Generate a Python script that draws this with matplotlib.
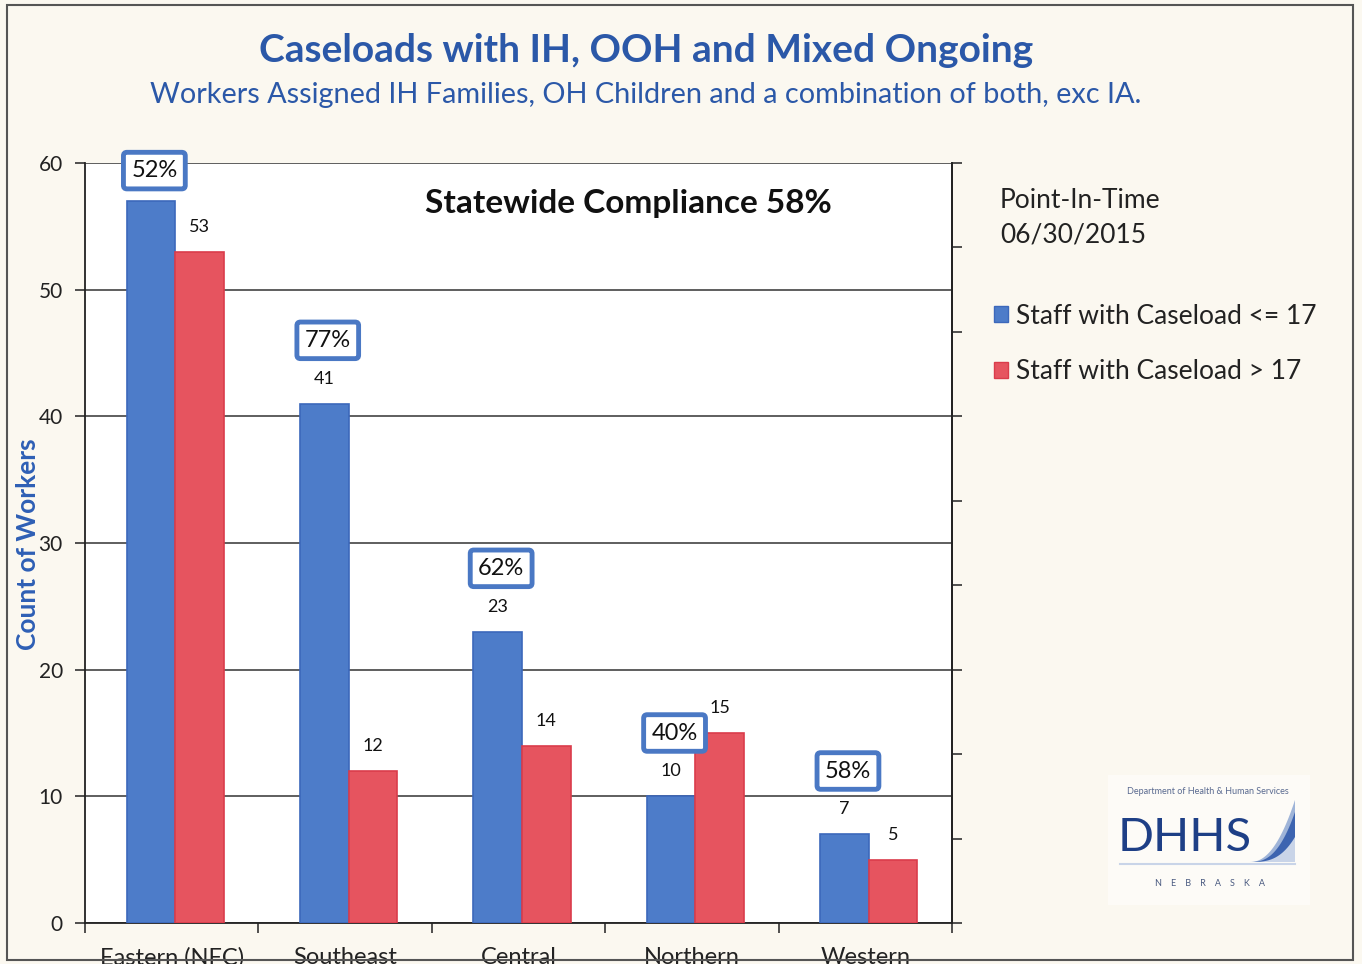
import matplotlib
matplotlib.use("Agg")
import matplotlib.pyplot as plt
from matplotlib.patches import Rectangle, Polygon
from matplotlib.lines import Line2D
import numpy as np

plt.rcParams['font.family'] = ['Lato', 'DejaVu Sans']

categories = ["Eastern (NFC)", "Southeast", "Central", "Northern", "Western"]
staff_le17 = [57, 41, 23, 10, 7]
staff_gt17 = [53, 12, 14, 15, 5]
compliance = ["52%", "77%", "62%", "40%", "58%"]
series_names = ["Staff with Caseload <= 17", "Staff with Caseload > 17"]

W, H = 1362, 964
fig = plt.figure(figsize=(W / 100, H / 100), dpi=100)
bg = '#fbf8f0'
fig.patch.set_facecolor(bg)

def fx(px):
    return px / W

def fy(py):
    return 1 - py / H

# outer border
fig.add_artist(Rectangle((fx(7), fy(960)), fx(1353) - fx(7), fy(5) - fy(960),
                         transform=fig.transFigure, fill=False, edgecolor='#555555', lw=1.5))

ax = fig.add_axes([fx(85), fy(923), fx(952) - fx(85), fy(163) - fy(923)])
ax.set_facecolor('white')

blue = '#4d7cc9'
blue_e = '#3c68bb'
red = '#e6545f'
red_e = '#da3c4b'
w = 0.28
x = np.arange(len(categories)) + 0.5
ax.bar(x - w / 2 + 0.02, staff_le17, width=w, color=blue, edgecolor=blue_e, lw=1.2, zorder=3)
ax.bar(x + w / 2 + 0.02, staff_gt17, width=w, color=red, edgecolor=red_e, lw=1.2, zorder=3)

ax.set_xlim(0, 5)
ax.set_ylim(0, 60)
ax.set_yticks(range(0, 61, 10))
ax.set_yticklabels([str(v) for v in range(0, 61, 10)], fontsize=15, color='#222222')
ax.yaxis.grid(True, color='#333333', lw=1.1, zorder=1)
ax.set_axisbelow(True)
ax.set_xticks(range(0, 6))
ax.set_xticklabels([])
ax.set_xticks(x, minor=True)
ax.set_xticklabels(categories, minor=True, fontsize=17, color='#222222')
ax.tick_params(axis='x', which='minor', length=0, pad=17)
ax.tick_params(axis='x', which='major', direction='out', length=7, width=1.2, color='#333333')
ax.tick_params(axis='y', direction='out', length=7, width=1.2, color='#333333', pad=9)
ax.spines['top'].set_visible(False)
for s in ['left', 'bottom', 'right']:
    ax.spines[s].set_color('#222222')
    ax.spines[s].set_linewidth(1.3)

ax2 = ax.twinx()
ax2.set_ylim(0, 9)
ax2.set_yticks(range(0, 10))
ax2.set_yticklabels([])
ax2.tick_params(axis='y', direction='out', length=7, width=1.2, color='#333333')
for s in ['top', 'left', 'bottom']:
    ax2.spines[s].set_visible(False)
ax2.spines['right'].set_color('#222222')
ax2.spines['right'].set_linewidth(1.3)

# value labels
for xi, v in zip(x - w / 2 + 0.02, staff_le17):
    ax.annotate(str(v), (xi, v), xytext=(0, 18), textcoords='offset points',
                ha='center', va='center', fontsize=13, color='#111111', zorder=5)
for xi, v in zip(x + w / 2 + 0.02, staff_gt17):
    ax.annotate(str(v), (xi, v), xytext=(0, 18), textcoords='offset points',
                ha='center', va='center', fontsize=13, color='#111111', zorder=5)

# compliance boxes
for xi, v, p in zip(x - w / 2, staff_le17, compliance):
    yy = min(v + 5, 59.4)
    ax.text(xi + 0.04, yy, p, ha='center', va='center', fontsize=17, color='#111111', zorder=6,
            bbox=dict(boxstyle='round,pad=0.33,rounding_size=0.15', fc='white', ec='#4a78c4', lw=3.5),
            clip_on=False)

fig.text(fx(628), fy(204), 'Statewide Compliance 58%', ha='center', va='center',
         fontsize=24, fontweight='bold', color='#111111')

# titles
fig.text(fx(646), fy(50), 'Caseloads with IH, OOH and Mixed Ongoing', ha='center', va='center',
         fontsize=28, fontweight='bold', color='#2b58a8')
fig.text(fx(646), fy(95), 'Workers Assigned IH Families, OH Children and a combination of both, exc IA.',
         ha='center', va='center', fontsize=20.8, color='#2b58a8')

fig.text(fx(28), fy(544), 'Count of Workers', rotation=90, ha='center', va='center',
         fontsize=19, fontweight='bold', color='#2e5fb5')

# point in time
fig.text(fx(1000), fy(218), 'Point-In-Time\n06/30/2015', ha='left', va='center',
         fontsize=19, color='#222222', linespacing=1.45)

handles = [Rectangle((0, 0), 1, 1, fc=blue, ec=blue_e), Rectangle((0, 0), 1, 1, fc=red, ec=red_e)]
fig.legend(handles, series_names, loc='upper left', bbox_to_anchor=(fx(970), fy(280)),
           frameon=False, fontsize=19, handlelength=0.55, handleheight=0.55,
           handletextpad=0.3, labelspacing=1.15, labelcolor='#222222')

# DHHS logo
fig.add_artist(Rectangle((fx(1108), fy(905)), fx(1310) - fx(1108), fy(775) - fy(905),
                         transform=fig.transFigure, fc='white', ec='none', alpha=0.5))
fig.text(fx(1208), fy(792), 'Department of Health & Human Services', ha='center', va='center',
         fontsize=6.5, color='#5a6a90')
fig.text(fx(1118), fy(838), 'DHHS', ha='left', va='center', fontsize=34, color='#1e3f86')
fig.text(fx(1210), fy(884), 'N    E    B    R    A    S    K    A', ha='center', va='center',
         fontsize=6.5, color='#4a5a80')
t = np.linspace(0, 1, 30)
xs = 1250 + 45 * t
top = 862 - 62 * t ** 2.2
pts = [(fx(a), fy(b)) for a, b in zip(xs, top)] + [(fx(1295), fy(862)), (fx(1250), fy(862))]
fig.add_artist(Polygon(pts, closed=True, transform=fig.transFigure, fc='#9fb4d8', ec='none'))
top2 = 862 - 50 * t ** 2.6
pts2 = [(fx(a), fy(b)) for a, b in zip(xs, top2)] + [(fx(1295), fy(862)), (fx(1250), fy(862))]
fig.add_artist(Polygon(pts2, closed=True, transform=fig.transFigure, fc='#3d64b0', ec='none'))
top3 = 862 - 25 * t ** 3
pts3 = [(fx(a), fy(b)) for a, b in zip(xs, top3)] + [(fx(1295), fy(862)), (fx(1250), fy(862))]
fig.add_artist(Polygon(pts3, closed=True, transform=fig.transFigure, fc='#c9d4e8', ec='none'))
fig.add_artist(Line2D([fx(1120), fx(1295)], [fy(864), fy(864)], transform=fig.transFigure,
                      color='#c9d4e8', lw=1.5))

fig.savefig('out.png', dpi=100, facecolor=bg)
